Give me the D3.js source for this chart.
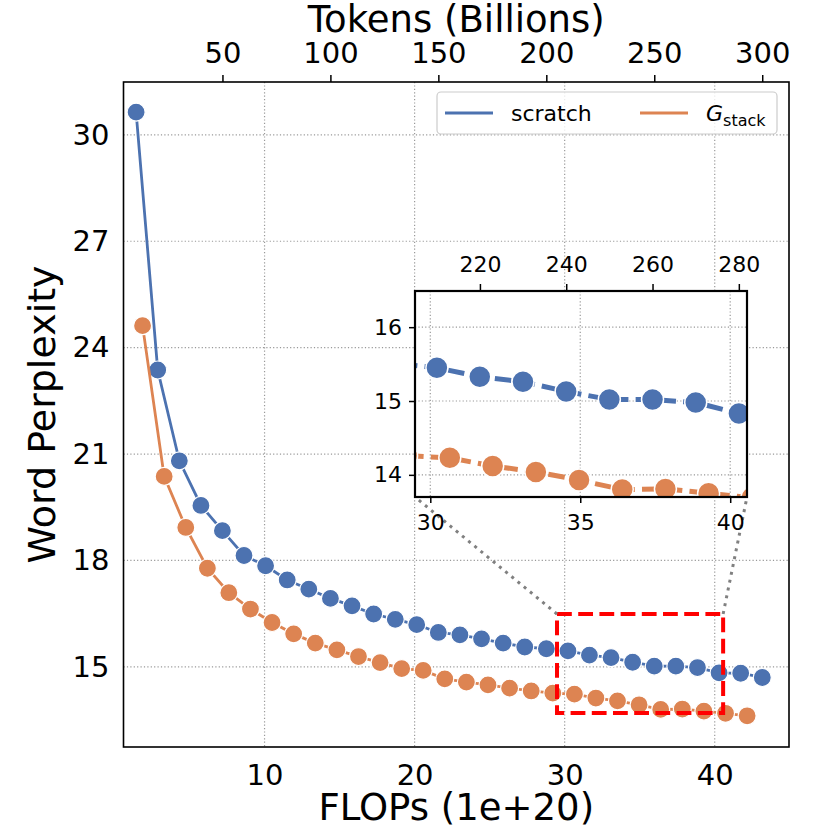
<!DOCTYPE html>
<html>
<head>
<meta charset="utf-8">
<script src="https://cdn.jsdelivr.net/npm/d3@7"></script>
<style>
  body { margin: 0; background: #fff; }
  text { font-family: "DejaVu Sans", sans-serif; fill: #000; }
</style>
</head>
<body>
<div id="container"></div>
<script>
/* DATA */
// FLOPs (1e+20) and word perplexity, one point per 10B tokens
const scratchFlops = [1.44, 2.88, 4.32, 5.76, 7.19, 8.63, 10.07, 11.51, 12.95, 14.39,
  15.83, 17.27, 18.71, 20.14, 21.58, 23.02, 24.46, 25.90, 27.34, 28.78,
  30.22, 31.65, 33.09, 34.53, 35.97, 37.41, 38.85, 40.29, 41.73, 43.17];
const scratchPpl = [30.64, 23.37, 20.81, 19.55, 18.84, 18.14, 17.85, 17.45, 17.19, 16.93,
  16.72, 16.49, 16.34, 16.19, 15.97, 15.90, 15.79, 15.67, 15.56, 15.51,
  15.45, 15.33, 15.26, 15.13, 15.02, 15.02, 14.98, 14.83, 14.82, 14.70];

const stackFlops = [1.87, 3.31, 4.75, 6.19, 7.62, 9.06, 10.50, 11.94, 13.38, 14.82,
  16.26, 17.70, 19.14, 20.57, 22.01, 23.45, 24.89, 26.33, 27.77, 29.21,
  30.65, 32.08, 33.52, 34.96, 36.40, 37.84, 39.28, 40.72, 42.16];
const stackPpl = [24.62, 20.37, 18.93, 17.78, 17.09, 16.63, 16.25, 15.93, 15.67, 15.48,
  15.29, 15.12, 14.95, 14.90, 14.66, 14.57, 14.49, 14.40, 14.32, 14.26,
  14.23, 14.12, 14.04, 13.93, 13.80, 13.81, 13.75, 13.69, 13.62];

const xTicks = [10, 20, 30, 40];
const yTicks = [15, 18, 21, 24, 27, 30];
const tokenTicks = [50, 100, 150, 200, 250, 300];
const insetXTicks = [30, 35, 40];
const insetYTicks = [14, 15, 16];
const insetTokenTicks = [220, 240, 260, 280];
const tokensPerFlop = 6.95; // billions of tokens per 1e20 FLOPs

const seriesNames = ["scratch", "stack"];
const colors = { scratch: "#4C72B0", stack: "#DD8452" };

/* CONSTANTS */
const width = 830, height = 830;
const plot = { left: 123.5, right: 789, top: 82, bottom: 747 };
const inset = { left: 415, right: 747, top: 291, bottom: 497 };
const xDomain = [0.6, 44.95], yDomain = [12.74, 31.49];
const insetXDomain = [29.49, 40.56], insetYDomain = [13.70, 16.49];
const gridColor = "#999999";

const series = seriesNames.map(name => ({
  name,
  points: (name === "scratch" ? scratchFlops : stackFlops).map((f, i) => ({
    x: f,
    y: (name === "scratch" ? scratchPpl : stackPpl)[i]
  }))
}));

/* SCALES */
const xScale = d3.scaleLinear().domain(xDomain).range([plot.left, plot.right]);
const yScale = d3.scaleLinear().domain(yDomain).range([plot.bottom, plot.top]);
const xTop = d3.scaleLinear().domain(xDomain.map(d => d * tokensPerFlop)).range([plot.left, plot.right]);

const xIn = d3.scaleLinear().domain(insetXDomain).range([inset.left, inset.right]);
const yIn = d3.scaleLinear().domain(insetYDomain).range([inset.bottom, inset.top]);
const xInTop = d3.scaleLinear().domain(insetXDomain.map(d => d * tokensPerFlop)).range([inset.left, inset.right]);

const svg = d3.select("#container")
  .append("svg")
  .attr("width", width)
  .attr("height", height);

const defs = svg.append("defs");
defs.append("clipPath").attr("id", "clip-main")
  .append("rect")
  .attr("x", plot.left).attr("y", plot.top)
  .attr("width", plot.right - plot.left).attr("height", plot.bottom - plot.top);
defs.append("clipPath").attr("id", "clip-inset")
  .append("rect")
  .attr("x", inset.left).attr("y", inset.top)
  .attr("width", inset.right - inset.left).attr("height", inset.bottom - inset.top);

/* MAIN GRID */
const grid = svg.append("g").attr("class", "grid")
  .attr("stroke", gridColor).attr("stroke-width", 1.2).attr("stroke-dasharray", "1.2,2.2");
grid.selectAll(".gx").data(xTicks).join("line")
  .attr("x1", d => xScale(d)).attr("x2", d => xScale(d))
  .attr("y1", plot.top).attr("y2", plot.bottom);
grid.selectAll(".gy").data(yTicks).join("line")
  .attr("y1", d => yScale(d)).attr("y2", d => yScale(d))
  .attr("x1", plot.left).attr("x2", plot.right);

/* MAIN AXES */
svg.append("g")
  .attr("transform", `translate(0,${plot.bottom})`)
  .call(d3.axisBottom(xScale).tickValues(xTicks).tickSize(0).tickPadding(17))
  .call(g => g.select(".domain").remove())
  .selectAll("text").style("font-size", "29px");

svg.append("g")
  .attr("transform", `translate(${plot.left},0)`)
  .call(d3.axisLeft(yScale).tickValues(yTicks).tickSize(0).tickPadding(14))
  .call(g => g.select(".domain").remove())
  .selectAll("text").style("font-size", "29px");

svg.append("g")
  .attr("transform", `translate(0,${plot.top})`)
  .call(d3.axisTop(xTop).tickValues(tokenTicks).tickSize(7).tickPadding(12))
  .call(g => g.select(".domain").remove())
  .call(g => g.selectAll(".tick line").attr("stroke-width", 1.5))
  .selectAll("text").style("font-size", "29px");

/* MAIN SERIES */
const line = d3.line().x(d => xScale(d.x)).y(d => yScale(d.y));
const mainLayer = svg.append("g").attr("clip-path", "url(#clip-main)");

series.forEach(s => {
  mainLayer.append("path")
    .datum(s.points)
    .attr("fill", "none")
    .attr("stroke", colors[s.name])
    .attr("stroke-width", 2.8)
    .attr("d", line);
  mainLayer.selectAll(".dot-" + s.name)
    .data(s.points)
    .join("circle")
    .attr("cx", d => xScale(d.x))
    .attr("cy", d => yScale(d.y))
    .attr("r", 9)
    .attr("fill", colors[s.name])
    .attr("stroke", "#fff")
    .attr("stroke-width", 1.2);
});

// frame
svg.append("rect")
  .attr("x", plot.left).attr("y", plot.top)
  .attr("width", plot.right - plot.left).attr("height", plot.bottom - plot.top)
  .attr("fill", "none").attr("stroke", "#000").attr("stroke-width", 1.6);

/* ZOOM MARKER + CONNECTORS */
svg.append("rect")
  .attr("x", xScale(insetXDomain[0]))
  .attr("y", yScale(insetYDomain[1]))
  .attr("width", xScale(insetXDomain[1]) - xScale(insetXDomain[0]))
  .attr("height", yScale(insetYDomain[0]) - yScale(insetYDomain[1]))
  .attr("fill", "none")
  .attr("stroke", "#ff0000")
  .attr("stroke-width", 4)
  .attr("stroke-dasharray", "14.8,6.4");

const connectors = [
  [[xScale(insetXDomain[0]), yScale(insetYDomain[1])], [inset.left, inset.bottom]],
  [[xScale(insetXDomain[1]), yScale(insetYDomain[1])], [inset.right, inset.bottom]]
];
svg.selectAll(".connector")
  .data(connectors)
  .join("line")
  .attr("x1", d => d[0][0]).attr("y1", d => d[0][1])
  .attr("x2", d => d[1][0]).attr("y2", d => d[1][1])
  .attr("stroke", "#808080")
  .attr("stroke-width", 3)
  .attr("stroke-dasharray", "3,5");

/* INSET */
const insetG = svg.append("g");
insetG.append("rect")
  .attr("x", inset.left).attr("y", inset.top)
  .attr("width", inset.right - inset.left).attr("height", inset.bottom - inset.top)
  .attr("fill", "#fff");

const igrid = insetG.append("g")
  .attr("stroke", gridColor).attr("stroke-width", 1.2).attr("stroke-dasharray", "1.2,2.2");
igrid.selectAll(".igx").data(insetXTicks).join("line")
  .attr("x1", d => xIn(d)).attr("x2", d => xIn(d))
  .attr("y1", inset.top).attr("y2", inset.bottom);
igrid.selectAll(".igy").data(insetYTicks).join("line")
  .attr("y1", d => yIn(d)).attr("y2", d => yIn(d))
  .attr("x1", inset.left).attr("x2", inset.right);

const insetLine = d3.line().x(d => xIn(d.x)).y(d => yIn(d.y));
const insetLayer = insetG.append("g").attr("clip-path", "url(#clip-inset)");
series.forEach(s => {
  insetLayer.append("path")
    .datum(s.points)
    .attr("fill", "none")
    .attr("stroke", colors[s.name])
    .attr("stroke-width", 5)
    .attr("stroke-dasharray", "16.6,7.2")
    .attr("d", insetLine);
  insetLayer.selectAll(".idot-" + s.name)
    .data(s.points)
    .join("circle")
    .attr("cx", d => xIn(d.x))
    .attr("cy", d => yIn(d.y))
    .attr("r", 11)
    .attr("fill", colors[s.name])
    .attr("stroke", "#fff")
    .attr("stroke-width", 1.5);
});

insetG.append("g")
  .attr("transform", `translate(0,${inset.bottom})`)
  .call(d3.axisBottom(xIn).tickValues(insetXTicks).tickFormat(d3.format("d")).tickSize(6).tickPadding(11))
  .call(g => g.select(".domain").remove())
  .call(g => g.selectAll(".tick line").attr("stroke-width", 1.5))
  .selectAll("text").style("font-size", "22px");

insetG.append("g")
  .attr("transform", `translate(${inset.left},0)`)
  .call(d3.axisLeft(yIn).tickValues(insetYTicks).tickFormat(d3.format("d")).tickSize(6).tickPadding(7))
  .call(g => g.select(".domain").remove())
  .call(g => g.selectAll(".tick line").attr("stroke-width", 1.5))
  .selectAll("text").style("font-size", "22px");

insetG.append("g")
  .attr("transform", `translate(0,${inset.top})`)
  .call(d3.axisTop(xInTop).tickValues(insetTokenTicks).tickFormat(d3.format("d")).tickSize(7).tickPadding(12))
  .call(g => g.select(".domain").remove())
  .call(g => g.selectAll(".tick line").attr("stroke-width", 1.5))
  .selectAll("text").style("font-size", "22px");

insetG.append("rect")
  .attr("x", inset.left).attr("y", inset.top)
  .attr("width", inset.right - inset.left).attr("height", inset.bottom - inset.top)
  .attr("fill", "none").attr("stroke", "#000").attr("stroke-width", 2.2);

/* LEGEND */
const legend = svg.append("g");
legend.append("rect")
  .attr("x", 437).attr("y", 92)
  .attr("width", 340).attr("height", 42)
  .attr("rx", 4)
  .attr("fill", "#fff").attr("fill-opacity", 0.8)
  .attr("stroke", "#cccccc").attr("stroke-width", 1.2);

const legendItems = [
  { name: "scratch", x: 445 },
  { name: "stack", x: 640 }
];
legendItems.forEach(item => {
  legend.append("line")
    .attr("x1", item.x).attr("x2", item.x + 48)
    .attr("y1", 113).attr("y2", 113)
    .attr("stroke", colors[item.name])
    .attr("stroke-width", 3);
  const t = legend.append("text")
    .attr("x", item.x + 66)
    .attr("y", 121)
    .style("font-size", "22px");
  if (item.name === "scratch") {
    t.text("scratch");
  } else {
    t.append("tspan").style("font-style", "italic").text("G");
    t.append("tspan").attr("dy", 5).style("font-size", "16px").text("stack");
  }
});

/* AXIS LABELS */
svg.append("text")
  .attr("x", (plot.left + plot.right) / 2)
  .attr("y", 820)
  .attr("text-anchor", "middle")
  .style("font-size", "37px")
  .text("FLOPs (1e+20)");

svg.append("text")
  .attr("x", (plot.left + plot.right) / 2)
  .attr("y", 32)
  .attr("text-anchor", "middle")
  .style("font-size", "37px")
  .text("Tokens (Billions)");

svg.append("text")
  .attr("transform", `translate(55,${(plot.top + plot.bottom) / 2}) rotate(-90)`)
  .attr("text-anchor", "middle")
  .style("font-size", "38px")
  .text("Word Perplexity");
</script>
</body>
</html>
